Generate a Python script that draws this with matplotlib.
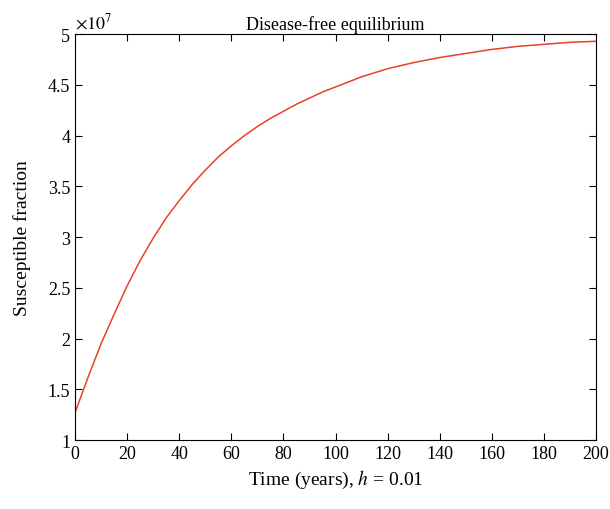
import matplotlib
matplotlib.use("Agg")
import matplotlib.pyplot as plt
from matplotlib.ticker import FuncFormatter

# (values in units of 1e7)
years = [0, 5, 10, 15, 20, 25, 30, 35, 40, 45, 50, 55, 60, 65, 70, 75, 80,
         85, 90, 95, 100, 110, 120, 130, 140, 150, 160, 170, 180, 190, 200]
susceptible = [1.27, 1.62, 1.95, 2.24, 2.52, 2.77, 2.99, 3.19, 3.36, 3.52, 3.66,
               3.79, 3.90, 4.00, 4.09, 4.17, 4.24, 4.31, 4.37, 4.43, 4.48,
               4.58, 4.66, 4.72, 4.77, 4.81, 4.85, 4.88, 4.90, 4.92, 4.93]
y_ticks = [1, 1.5, 2, 2.5, 3, 3.5, 4, 4.5, 5]

plt.rcParams['font.family'] = ['Liberation Serif', 'DejaVu Serif']
plt.rcParams['mathtext.fontset'] = 'stix'

fig = plt.figure(figsize=(6.1, 5.1), dpi=100)
ax = fig.add_axes([0.123, 0.135, 0.854, 0.796])
ax.plot(years, [v * 1e7 for v in susceptible], color='#e8412a', linewidth=1.1)
ax.set_xlim(0, 200)
ax.set_ylim(1e7, 5e7)
ax.set_xticks(range(0, 201, 20))
ax.set_yticks([v * 1e7 for v in y_ticks])
ax.yaxis.set_major_formatter(FuncFormatter(lambda v, p: f'{v / 1e7:g}'))
ax.tick_params(direction='in', top=True, right=True, labelsize=13, length=5)
ax.text(0.0, 1.005, r'$\times10^{7}$', transform=ax.transAxes, fontsize=13,
        ha='left', va='bottom')
ax.set_title('Disease-free equilibrium', fontsize=13, pad=4)
ax.set_xlabel('Time (years), $h$ = 0.01', fontsize=14)
ax.set_ylabel('Susceptible fraction', fontsize=14, labelpad=12)
fig.savefig('out.png')
